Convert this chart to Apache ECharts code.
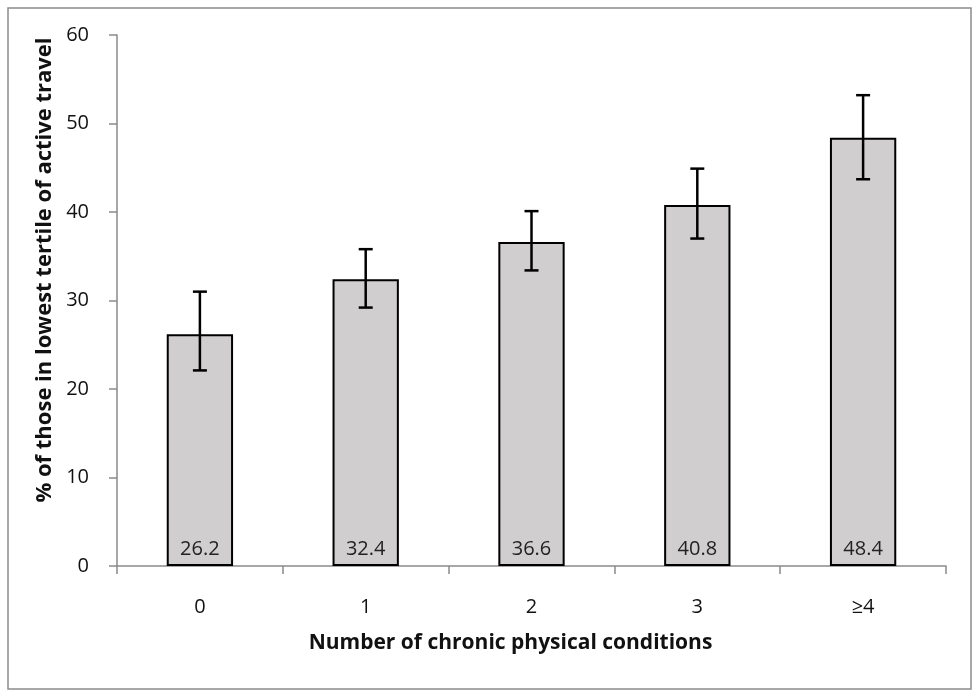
<!DOCTYPE html>
<html>
<head>
<meta charset="utf-8">
<script src="https://cdn.jsdelivr.net/npm/echarts@6/dist/echarts.min.js"></script>
<style>
html,body{margin:0;padding:0;background:#fff;}
#chart{width:974px;height:692px;}
</style>
</head>
<body>
<div id="chart"></div>
<script>
const categories = ['0', '1', '2', '3', '\u22654'];
const values = [26.2, 32.4, 36.6, 40.8, 48.4];
const errLow = [22.1, 29.2, 33.4, 37.0, 43.7];
const errHigh = [31.0, 35.8, 40.1, 44.9, 53.2];
const yTicks = [0, 10, 20, 30, 40, 50, 60];

const chart = echarts.init(document.getElementById('chart'), null, {renderer: 'canvas'});
const FONT = '"Open Sans", "DejaVu Sans", sans-serif';

chart.setOption({
  backgroundColor: '#ffffff',
  animation: false,
  graphic: [
    {
      type: 'rect',
      shape: {x: 8, y: 8, width: 963, height: 681},
      style: {fill: 'none', stroke: '#8c8c8c', lineWidth: 1.5},
      silent: true
    },
    {
      type: 'text',
      x: 45, y: 270,
      rotation: Math.PI / 2,
      style: {
        text: '% of those in lowest tertile of active travel',
        font: 'bold 22px ' + FONT,
        fill: '#111',
        align: 'center',
        verticalAlign: 'middle'
      }
    }
  ],
  grid: {left: 117, right: 28, top: 35, bottom: 126, containLabel: false},
  xAxis: {
    type: 'category',
    data: categories,
    axisLine: {lineStyle: {color: '#8a8a8a', width: 1.5}},
    axisTick: {show: true, length: 8, lineStyle: {color: '#8a8a8a', width: 1.5}},
    axisLabel: {margin: 31, fontSize: 20, color: '#111', fontFamily: FONT},
    name: 'Number of chronic physical conditions',
    nameLocation: 'middle',
    nameGap: 67,
    nameTextStyle: {fontSize: 21, fontWeight: 'bold', color: '#111', fontFamily: FONT, padding: [0, 42, 0, 0]}
  },
  yAxis: {
    type: 'value',
    min: 0, max: 60, interval: 10,
    axisLine: {show: true, lineStyle: {color: '#8a8a8a', width: 1.5}},
    axisTick: {show: true, length: 8, lineStyle: {color: '#8a8a8a', width: 1.5}},
    splitLine: {show: false},
    axisLabel: {
      margin: 28, fontSize: 20, color: '#111', fontFamily: FONT,
      formatter: function (v) { return yTicks.indexOf(v) >= 0 ? String(v) : ''; }
    }
  },
  series: [
    {
      type: 'bar',
      data: values,
      barWidth: '40%',
      itemStyle: {color: '#d0cece', borderColor: '#000', borderWidth: 2},
      label: {
        show: true,
        position: 'insideBottom',
        distance: 7,
        fontSize: 20,
        color: '#222',
        fontFamily: FONT,
        formatter: function (p) { return p.value.toFixed(1); }
      },
      z: 2
    },
    {
      type: 'custom',
      data: categories.map(function (c, i) { return [i, errLow[i], errHigh[i]]; }),
      renderItem: function (params, api) {
        const lo = api.coord([api.value(0), api.value(1)]);
        const hi = api.coord([api.value(0), api.value(2)]);
        const half = 7;
        const style = {stroke: '#000', lineWidth: 2.5};
        return {
          type: 'group',
          children: [
            {type: 'line', shape: {x1: hi[0], y1: hi[1], x2: lo[0], y2: lo[1]}, style: style},
            {type: 'line', shape: {x1: hi[0] - half, y1: hi[1], x2: hi[0] + half, y2: hi[1]}, style: style},
            {type: 'line', shape: {x1: lo[0] - half, y1: lo[1], x2: lo[0] + half, y2: lo[1]}, style: style}
          ]
        };
      },
      z: 3
    }
  ]
});
</script>
</body>
</html>
